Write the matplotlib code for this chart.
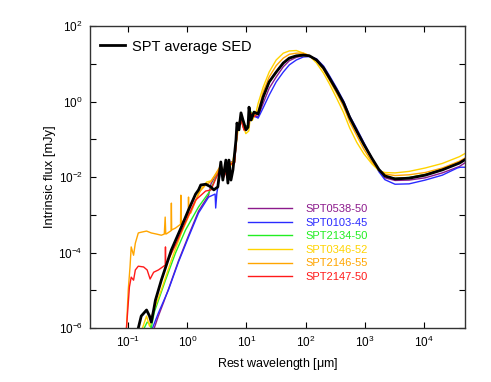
import numpy as np
import matplotlib
matplotlib.use("Agg")
import matplotlib.pyplot as plt
from matplotlib.ticker import FixedLocator, FuncFormatter, NullLocator

plt.rcParams["font.family"] = ["Liberation Sans", "DejaVu Sans"]
plt.rcParams["mathtext.default"] = "regular"

# values: log10(wavelength / um), log10(flux / mJy)
avg_lw = [-0.83, -0.78, -0.69, -0.64, -0.61, -0.57, -0.54, -0.44, -0.27, -0.10, 0.02, 0.14,
          0.19, 0.227, 0.312, 0.397, 0.448, 0.516, 0.567, 0.601, 0.652, 0.687, 0.704, 0.738,
          0.772, 0.789, 0.823, 0.840, 0.874, 0.908, 0.942, 0.993, 1.027, 1.044, 1.078, 1.129]
avg_lf = [-6.0, -5.68, -5.52, -5.68, -5.84, -5.52, -5.26, -4.73, -3.93, -3.32, -2.87, -2.45,
          -2.34, -2.21, -2.19, -2.26, -2.34, -2.26, -1.60, -2.08, -1.55, -2.16, -1.55, -2.08,
          -1.81, -1.55, -1.02, -0.57, -0.75, -0.30, -0.49, -0.75, -0.68, -0.15, -0.49, -0.28]

# shared grids for the mid-IR and far-IR/mm parts
mid_lw = [0.40, 0.57, 0.62, 0.70, 0.80, 0.85, 0.91, 0.96, 1.03, 1.08, 1.13]
fir_lw = [1.198, 1.283, 1.385, 1.504, 1.624, 1.726, 1.845, 1.964, 2.066, 2.186, 2.305, 2.407,
          2.526, 2.646, 2.748, 2.867, 2.986, 3.123, 3.242, 3.344, 3.515, 3.753, 4.026, 4.315,
          4.605, 4.741]

avg_fir = [-0.33, 0.12, 0.52, 0.78, 1.02, 1.15, 1.21, 1.23, 1.21, 1.10, 0.89, 0.62,
           0.30, -0.04, -0.42, -0.78, -1.13, -1.50, -1.80, -1.97, -2.05, -2.03, -1.95, -1.81,
           -1.63, -1.50]

# SPT0538-50
s0538_uv_lw = [-0.56, -0.49, -0.40, -0.32, -0.15, 0.02, 0.19, 0.36]
s0538_uv_lf = [-6.0, -5.68, -5.31, -4.97, -4.22, -3.55, -2.90, -2.48]
s0538_mid = [-2.18, -1.70, -1.95, -1.62, -1.58, -0.62, -0.45, -0.73, -0.62, -0.30, -0.40]
s0538_fir = [-0.40, -0.05, 0.35, 0.65, 0.92, 1.08, 1.17, 1.21, 1.21, 1.12, 0.91, 0.64,
             0.32, -0.02, -0.41, -0.76, -1.12, -1.50, -1.83, -2.02, -2.09, -2.08, -2.02, -1.89,
             -1.72, -1.58]

# SPT0103-45
s0103_lw = [-0.59, -0.49, -0.32, -0.15, 0.02, 0.19, 0.36, 0.47, 0.48, 0.50, 0.57, 0.62,
            0.70, 0.80, 0.85, 0.91, 0.96, 1.03, 1.08, 1.13, 1.198, 1.283, 1.385, 1.504, 1.624,
            1.726, 1.845, 1.964, 2.066, 2.186, 2.305, 2.407, 2.526, 2.646, 2.748, 2.867, 2.986,
            3.123, 3.242, 3.344, 3.515, 3.753, 4.026, 4.315, 4.57, 4.62, 4.741]
s0103_lf = [-6.0, -5.60, -4.99, -4.25, -3.59, -2.95, -2.53, -2.45, -2.82, -2.42, -1.75, -1.98,
            -1.68, -1.62, -0.66, -0.48, -0.72, -0.62, -0.30, -0.38, -0.44, -0.17, 0.17, 0.52,
            0.78, 0.97, 1.10, 1.18, 1.19, 1.13, 0.94, 0.68, 0.36, 0.01, -0.38, -0.72, -1.08,
            -1.50, -1.86, -2.07, -2.19, -2.18, -2.08, -1.95, -1.76, -1.74, -1.74]

# SPT2134-50
s2134_uv_lw = [-0.73, -0.68, -0.64, -0.61, -0.56, -0.37, -0.20, -0.03, 0.19, 0.36]
s2134_uv_lf = [-6.0, -5.84, -5.89, -6.0, -5.58, -4.73, -4.01, -3.40, -2.79, -2.42]
s2134_mid = [-2.30, -1.72, -1.98, -1.66, -1.60, -0.65, -0.45, -0.72, -0.62, -0.28, -0.36]
s2134_fir = [-0.34, 0.10, 0.50, 0.77, 1.01, 1.14, 1.20, 1.22, 1.20, 1.09, 0.88, 0.61,
             0.29, -0.05, -0.43, -0.79, -1.14, -1.51, -1.81, -1.98, -2.03, -2.01, -1.93, -1.79,
             -1.61, -1.48]

# SPT0346-52
s0346_lw = [-0.76, -0.69, -0.64, -0.59, -0.44, -0.27, -0.10, 0.07, 0.24, 0.33, 0.40, 0.55,
            0.60, 0.70, 0.76, 0.82, 0.86, 0.90, 0.94, 0.99, 1.04, 1.07, 1.10, 1.164]
s0346_lf = [-6.0, -5.68, -5.95, -5.63, -4.99, -4.20, -3.48, -2.87, -2.30, -2.13, -2.10, -1.78,
            -2.00, -1.75, -1.65, -1.20, -0.75, -0.45, -0.62, -0.85, -0.78, -0.35, -0.50, -0.28]
s0346_fir = [-0.05, 0.38, 0.78, 1.10, 1.28, 1.34, 1.35, 1.28, 1.21, 1.02, 0.75, 0.46,
             0.09, -0.30, -0.70, -1.08, -1.38, -1.65, -1.83, -1.88, -1.89, -1.85, -1.76, -1.64,
             -1.46, -1.34]

# SPT2146-55
s2146_uv_lw = [-1.03, -1.00, -0.97, -0.95, -0.91, -0.88, -0.83, -0.78, -0.69, -0.61, -0.52,
               -0.44, -0.39, -0.375, -0.365, -0.35, -0.275, -0.27, -0.265, -0.20, -0.115,
               -0.11, -0.105, -0.10, 0.015, 0.02, 0.025, 0.06, 0.19, 0.31]
s2146_uv_lf = [-6.0, -4.99, -4.38, -3.85, -4.07, -3.75, -3.48, -3.46, -3.43, -3.48, -3.51,
               -3.54, -3.51, -3.06, -3.51, -3.50, -3.42, -2.69, -3.40, -3.35, -3.25,
               -2.48, -3.24, -3.22, -3.00, -2.53, -2.98, -2.95, -2.42, -2.21]
s2146_mid = [-2.12, -1.68, -1.96, -1.64, -1.58, -0.64, -0.46, -0.74, -0.64, -0.30, -0.38]
s2146_fir = [-0.25, 0.25, 0.65, 0.95, 1.15, 1.25, 1.28, 1.28, 1.22, 1.08, 0.84, 0.56,
             0.22, -0.14, -0.54, -0.90, -1.26, -1.60, -1.82, -1.92, -1.96, -1.94, -1.88, -1.76,
             -1.58, -1.46]

# SPT2147-50
s2147_uv_lw = [-1.03, -0.98, -0.95, -0.91, -0.88, -0.83, -0.74, -0.68, -0.63, -0.57, -0.49,
               -0.40, -0.375, -0.37, -0.365, -0.34, -0.20, -0.03, 0.14, 0.31]
s2147_uv_lf = [-6.0, -4.91, -4.65, -4.73, -4.46, -4.36, -4.38, -4.46, -4.70, -4.52, -4.46,
               -4.36, -4.33, -3.85, -4.33, -4.25, -3.80, -3.19, -2.61, -2.37]
s2147_mid = [-2.34, -1.72, -2.00, -1.68, -1.62, -0.68, -0.50, -0.76, -0.66, -0.32, -0.40]
s2147_fir = [-0.32, 0.13, 0.53, 0.79, 1.02, 1.15, 1.21, 1.22, 1.20, 1.09, 0.88, 0.61,
             0.30, -0.04, -0.43, -0.77, -1.13, -1.50, -1.80, -1.98, -2.04, -2.02, -1.94, -1.80,
             -1.62, -1.49]

names = ["SPT0538-50", "SPT0103-45", "SPT2134-50", "SPT0346-52", "SPT2146-55", "SPT2147-50"]
colors = ["#8c1a8c", "#2a2aff", "#22ee22", "#ffd400", "#ffa500", "#ff1a1a"]
series = [
    (s0538_uv_lw + mid_lw + fir_lw, s0538_uv_lf + s0538_mid + s0538_fir),
    (s0103_lw, s0103_lf),
    (s2134_uv_lw + mid_lw + fir_lw, s2134_uv_lf + s2134_mid + s2134_fir),
    (s0346_lw + fir_lw, s0346_lf + s0346_fir),
    (s2146_uv_lw + mid_lw + fir_lw, s2146_uv_lf + s2146_mid + s2146_fir),
    (s2147_uv_lw + mid_lw + fir_lw, s2147_uv_lf + s2147_mid + s2147_fir),
]

fig = plt.figure(figsize=(4.91, 3.82), dpi=100)
ax = fig.add_axes([0.183, 0.141, 0.764, 0.791])

lines = []
for (x, y), c, n in zip(series, colors, names):
    ln, = ax.plot(10 ** np.array(x), 10 ** np.array(y), color=c, lw=1.0, label=n)
    lines.append(ln)
avg, = ax.plot(10 ** np.array(avg_lw + fir_lw), 10 ** np.array(avg_lf + avg_fir),
               color="black", lw=2.0, label="SPT average SED")

ax.set_xscale("log")
ax.set_yscale("log")
ax.set_xlim(0.0224, 5.0e4)
ax.set_ylim(1e-6, 1e2)

ax.xaxis.set_major_locator(FixedLocator([10.0 ** k for k in range(-1, 5)]))
ax.yaxis.set_major_locator(FixedLocator([10.0 ** k for k in range(-6, 3)]))
ax.xaxis.set_minor_locator(NullLocator())
ax.yaxis.set_minor_locator(NullLocator())
ax.xaxis.set_major_formatter(FuncFormatter(lambda v, p: r"$10^{%d}$" % round(np.log10(v))))
ax.yaxis.set_major_formatter(FuncFormatter(
    lambda v, p: r"$10^{%d}$" % round(np.log10(v)) if round(np.log10(v)) % 2 == 0 else ""))
ax.tick_params(which="both", direction="in", top=True, right=True, length=4, width=0.8,
               labelsize=8.5, pad=5)
for s in ax.spines.values():
    s.set_linewidth(1.0)
    s.set_color("#333333")

ax.set_xlabel(r"Rest wavelength [$\mu$m]", fontsize=9, labelpad=4)
ax.set_ylabel("Intrinsic flux [mJy]", fontsize=9.3, labelpad=2)

leg1 = ax.legend(handles=[avg], loc="upper left", bbox_to_anchor=(0.027, 0.955),
                 frameon=False, fontsize=10.5, handlelength=1.7, handletextpad=0.5,
                 borderpad=0, borderaxespad=0)
ax.add_artist(leg1)
ax.legend(handles=lines, loc="upper left", bbox_to_anchor=(0.421, 0.41), frameon=False,
          fontsize=8, handlelength=4.0, handletextpad=1.2, labelspacing=0.32,
          borderpad=0, borderaxespad=0, labelcolor="linecolor")

fig.savefig("out.png", dpi=100)
